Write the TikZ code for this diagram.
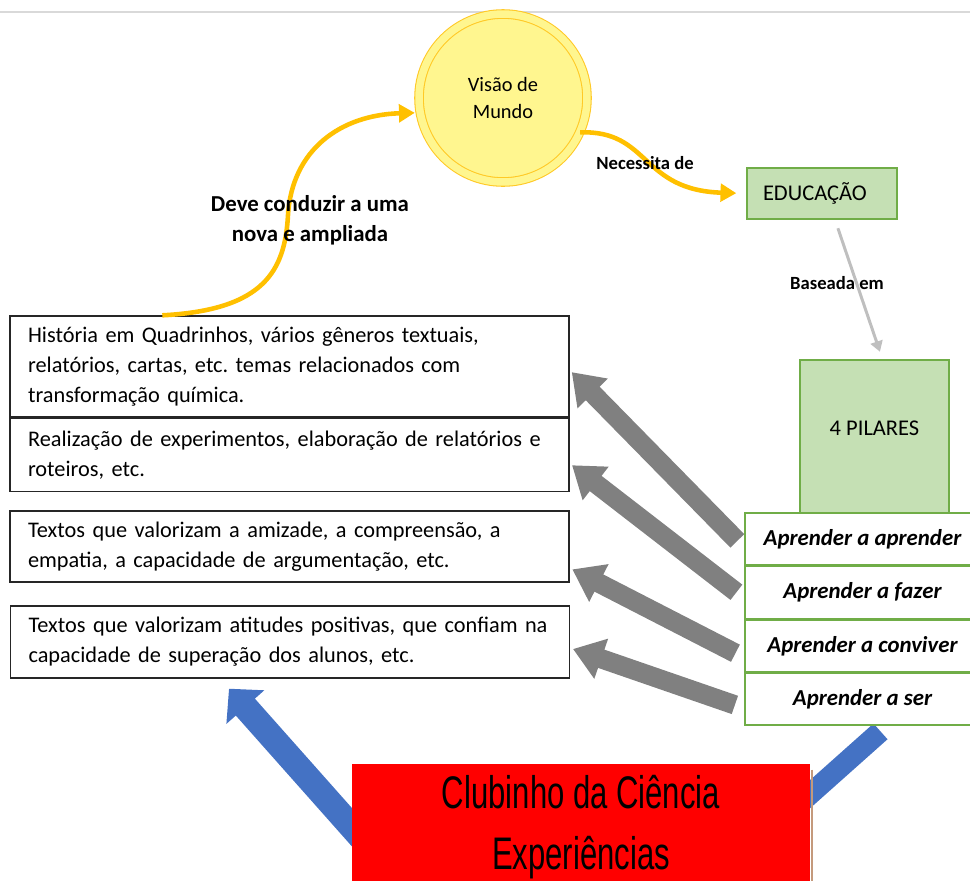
\documentclass[tikz,border=0pt]{standalone}
\usepackage{fontspec}
\setmainfont{Carlito}
\newfontfamily\clubfont[FakeStretch=0.68]{Liberation Sans}
\usepackage{xcolor}
\usetikzlibrary{arrows.meta,positioning}

\definecolor{sunfill}{HTML}{FFF68F}
\definecolor{sunline}{HTML}{FFC000}
\definecolor{pilarfill}{HTML}{C5E0B4}
\definecolor{pilarline}{HTML}{70AD47}
\definecolor{arrowgray}{HTML}{808080}
\definecolor{lightarrow}{HTML}{BFBFBF}
\definecolor{clubblue}{HTML}{4472C4}
\definecolor{clubred}{HTML}{FF0000}
\definecolor{clubedge}{HTML}{C49A7C}

\pgfdeclarelayer{back}
\pgfsetlayers{back,main}
\frenchspacing

\begin{document}
\begin{tikzpicture}[
      x=0.02cm, y=-0.02cm,
      textbox/.style={
         draw=black!85,
         line width=0.8pt,
         fill=white,
         align=left,
         text width=10.46cm,
         inner xsep=0.36cm,
         font=\fontsize{12.7}{17}\selectfont},
      greenbox/.style={
         draw=pilarline,
         fill=pilarfill,
         line width=0.8pt,
         font=\fontsize{12.8}{15}\selectfont},
      pilar/.style={
         draw=pilarline,
         fill=white,
         line width=0.8pt,
         minimum width=4.7cm,
         minimum height=1.04cm,
         font=\fontsize{13}{15}\selectfont\bfseries\itshape},
      tag/.style={font=\fontsize{13}{17}\selectfont\bfseries, align=center},
      smalltag/.style={font=\fontsize{10.6}{12}\selectfont\bfseries},
      sunarrow/.style={draw=sunline, line width=2.6pt, -{Triangle[width=10pt,length=9pt]}},
      bigarrow/.style={draw=arrowgray, line width=11pt, -{Triangle[width=23pt,length=17pt]}},
      bluearrow/.style={draw=clubblue, line width=14.5pt}
      ]
\useasboundingbox (0,0) rectangle (970,880);
\draw[black!15, line width=1.2pt] (0,12) -- (970,12);

% vision and education
\node[circle, minimum size=3.36cm, draw=sunline!85, line width=0.6pt,
      double=sunfill, double distance=0.15cm, fill=sunfill,
      align=center, font=\fontsize{11.6}{15}\selectfont] (vm) at (503,98) {Visão de\\Mundo};
\node[greenbox, minimum width=3cm, minimum height=1.02cm, text width=2.36cm,
      inner xsep=0.32cm, align=left] (edu) at (822,193.5) {EDUCAÇÃO};
\node[greenbox, minimum width=2.98cm, minimum height=3.06cm, text depth=0.34cm] (pil) at (874.5,436.5) {4 PILARES};

% the four pillars
\node[pilar] (aa) at (862.5,539) {Aprender a aprender};
\node[pilar, below=0pt of aa] (aF) {Aprender a fazer};
\node[pilar, below=0pt of aF] (aC) {Aprender a conviver};
\node[pilar, below=0pt of aC] (aS) {Aprender a ser};

% activities
\node[textbox, minimum width=11.18cm, minimum height=2.02cm] (h1) at (289.5,366.5)
   {História em Quadrinhos, vários gêneros textuais,\\relatórios, cartas, etc. temas relacionados com\\transformação química.};
\node[textbox, minimum width=11.18cm, minimum height=1.46cm, below=0pt of h1] (h2)
   {Realização de experimentos, elaboração de relatórios e\\roteiros, etc.};
\node[textbox, minimum width=11.18cm, minimum height=1.42cm] (h3) at (289.5,546.5)
   {Textos que valorizam a amizade, a compreensão, a\\empatia, a capacidade de argumentação, etc.};
\node[textbox, minimum width=11.16cm, minimum height=1.44cm] (h4) at (290,642)
   {Textos que valorizam atitudes positivas, que confiam na\\capacidade de superação dos alunos, etc.};

% the club
\node[fill=clubred, minimum width=9.16cm, minimum height=2.52cm, align=center,
      font=\clubfont\fontsize{26}{35}\selectfont] (club) at (581,827)
   {Clubinho da Ciência\\Experiências};
\draw[clubedge, line width=1.5pt] ([xshift=0.9pt,yshift=-0.12cm]club.north east) -- ([xshift=0.9pt]club.south east);

\begin{pgfonlayer}{back}
\draw[bluearrow, -{Triangle[width=28pt,length=14pt]}]
   ([xshift=0.8cm,yshift=-0.9cm]club.west) -- ([xshift=-1.22cm,yshift=-0.2cm]h4.south);
\draw[bluearrow, line width=12pt]
   ([xshift=-0.78cm,yshift=-1.3cm]club.north east) -- ([xshift=0.36cm,yshift=-0.11cm]aS.south);
\end{pgfonlayer}

% curved links
\draw[sunarrow, shorten >=0.1cm] ([xshift=3.06cm]h1.north west)
   .. controls (265,310) and (285,270) .. (288,215)
   .. controls (292,150) and (340,115) .. (vm.190);
\node[tag] (deve) at (310,220) {Deve conduzir a uma\\nova e ampliada};

\draw[sunarrow, shorten >=0.2cm] (vm.-24)
   .. controls (650,130) and (640,190) .. (edu.west);
\node[smalltag] (nec) at (645,163) {Necessita de};

\draw[lightarrow, line width=1.7pt, -{Triangle[width=7pt,length=6pt]}, shorten <=0.18cm, shorten >=0.16cm]
   ([xshift=0.26cm]edu.south) -- ([xshift=0.16cm]pil.north);
\node[smalltag] (bas) at (837,283) {Baseada em};

% pillars to activities
\foreach \i/\j/\a/\b in {% pillar/box/tail shift/tip shift
      aa/h1/-0.18/-0.07,
      aF/h2/-0.12/-0.17,
      aC/h3/-0.24/-0.43,
      aS/h4/-0.18/-0.12}
   \draw[bigarrow, shorten <=0.2cm, shorten >=0.06cm]
      ([yshift=\a cm]\i.west) -- ([yshift=\b cm]\j.east);

\end{tikzpicture}
\end{document}
